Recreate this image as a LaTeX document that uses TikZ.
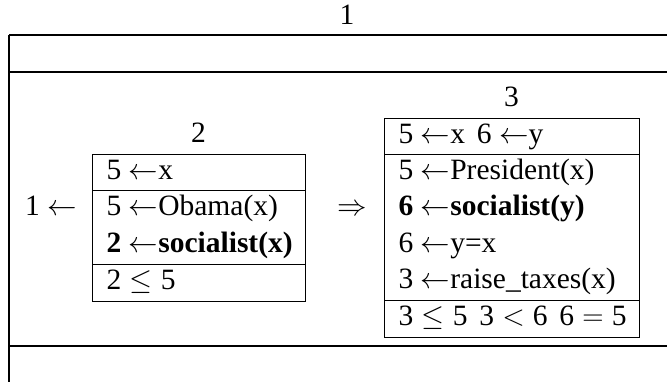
\RequirePackage{fix-cm}
\documentclass[tikz,border=0pt]{standalone}
\usepackage{fontspec}
\setmainfont{Liberation Serif}
\newcommand{\dg}[1]{\mbox{#1}}
\begin{document}
\begin{tikzpicture}[x=1pt,y=-1pt,
  rule/.style={line width=0.9pt},
  orule/.style={line width=1.1pt},
  txt/.style={anchor=base west,inner sep=0pt},
  ttl/.style={anchor=base,inner sep=0pt},
  every node/.append style={font=\fontsize{29.5}{35}\selectfont}]
\useasboundingbox (0,0) rectangle (667,381);
% outer table
\node[ttl] (t1) at (347,24) {1};
\draw[orule] (9,35) -- (690,35);
\draw[orule] (9,72) -- (690,72);
\draw[orule] (9,346) -- (690,346);
\draw[orule] (9,35) -- (9,395);
% left part
\node[txt] (lhs) at (25,215.75) {1 $\leftarrow$};
% box 2
\node[ttl] (t2) at (198.5,142.5) {2};
\draw[rule] (92,154) rectangle (305,301);
\draw[rule] (92,190.75) -- (305,190.75);
\draw[rule] (92,264) -- (305,264);
\node[txt] (b2r1) at (106.5,179) {5 $\leftarrow$x};
\node[txt] (b2r2) at (106.5,215.75) {5 $\leftarrow$Obama(x)};
\node[txt] (b2r3) at (106.5,252.5) {\textbf{2} $\leftarrow$\textbf{socialist(x)}};
\node[txt] (b2r4) at (106.5,289) {$\dg{2}\leq\dg{5}$};
% implication
\node[ttl] (impl) at (352.5,215.5) {$\Rightarrow$};
% box 3
\node[ttl] (t3) at (511.5,106.5) {3};
\draw[rule] (384,118) rectangle (639,337);
\draw[rule] (384,154) -- (639,154);
\draw[rule] (384,300) -- (639,300);
\node[txt] (b3r1) at (398.5,143) {5 $\leftarrow$x\hspace{0.4em}6 $\leftarrow$y};
\node[txt] (b3r2) at (398.5,179) {5 $\leftarrow$President(x)};
\node[txt] (b3r3) at (398.5,215.5) {\textbf{6} $\leftarrow$\textbf{socialist(y)}};
\node[txt] (b3r4) at (398.5,252) {6 $\leftarrow$y=x};
\node[txt] (b3r5) at (398.5,288.5) {3 $\leftarrow$raise\_taxes(x)};
\node[txt] (b3r6) at (398.5,325) {$\dg{3}\leq\dg{5}$\hspace{0.4em}$\dg{3}<\dg{6}$\hspace{0.4em}$\dg{6}=\dg{5}$};
\end{tikzpicture}
\end{document}
